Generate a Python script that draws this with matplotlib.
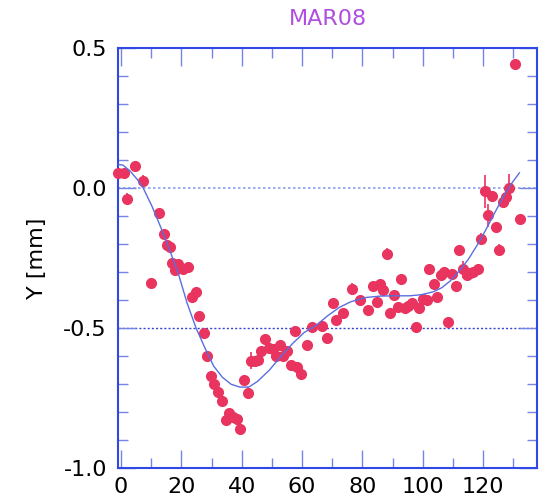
import matplotlib
matplotlib.use("Agg")
import matplotlib.pyplot as plt
from matplotlib.ticker import MultipleLocator, FormatStrFormatter

# ---- data ----
x_pts = [-0.9, 1.0, 2.0, 4.8, 7.3, 9.9, 12.6, 14.3, 15.2, 16.1, 16.9, 18.0, 19.0, 20.6, 22.3,
         23.6, 25.0, 25.8, 27.5, 28.5, 29.8, 30.9, 32.1, 33.5, 34.8, 35.8, 37.2, 38.4, 39.4,
         40.7, 42.1, 43.1, 44.4, 45.4, 46.5, 47.7, 49.1, 50.2, 51.4, 52.7, 53.7, 55.0, 56.4,
         57.7, 58.4, 59.7, 61.7, 63.3, 66.6, 68.3, 70.2, 71.3, 73.6, 76.5, 79.2, 81.9, 83.5,
         84.9, 85.8, 86.9, 88.2, 89.1, 90.5, 91.8, 92.8, 94.2, 95.1, 96.5, 97.8, 98.7,
         100.1, 101.4, 102.2, 103.6, 104.7, 106.1, 107.1, 108.2, 109.7, 111.0, 112.1, 113.4,
         114.5, 115.6, 116.7, 118.3, 119.3, 120.6, 121.6, 123.0, 124.3, 125.3, 126.7, 127.6,
         128.6, 130.6, 132.3]
y_pts = [0.054, 0.054, -0.037, 0.079, 0.027, -0.337, -0.09, -0.163, -0.204, -0.211, -0.268,
         -0.292, -0.27, -0.287, -0.281, -0.39, -0.372, -0.455, -0.518, -0.60, -0.67, -0.70,
         -0.728, -0.76, -0.826, -0.803, -0.818, -0.824, -0.86, -0.686, -0.73, -0.616, -0.616,
         -0.613, -0.58, -0.54, -0.57, -0.575, -0.60, -0.558, -0.60, -0.58, -0.63, -0.51,
         -0.638, -0.663, -0.56, -0.497, -0.492, -0.535, -0.41, -0.47, -0.444, -0.36, -0.40,
         -0.434, -0.35, -0.405, -0.341, -0.362, -0.233, -0.444, -0.38, -0.423, -0.323,
         -0.427, -0.419, -0.408, -0.495, -0.427, -0.395, -0.40, -0.287, -0.341, -0.39,
         -0.31, -0.30, -0.477, -0.305, -0.348, -0.219, -0.29, -0.31, -0.303, -0.30, -0.29,
         -0.18, -0.011, -0.097, -0.029, -0.14, -0.219, -0.05, -0.032, 0.0, 0.444, -0.111]
y_err = [0.01, 0.01, 0.02, 0.01, 0.02, 0.01, 0.02, 0.01, 0.01, 0.01, 0.01, 0.01, 0.01, 0.01,
         0.01, 0.01, 0.01, 0.01, 0.01, 0.01, 0.01, 0.01, 0.01, 0.01, 0.01, 0.015, 0.01, 0.01,
         0.01, 0.015, 0.02, 0.03, 0.01, 0.01, 0.01, 0.01, 0.01, 0.01, 0.01, 0.01, 0.01, 0.01,
         0.01, 0.01, 0.01, 0.01, 0.015, 0.01, 0.01, 0.015, 0.01, 0.01, 0.01, 0.02, 0.01,
         0.01, 0.01, 0.01, 0.01, 0.02, 0.02, 0.01, 0.01, 0.01, 0.01, 0.01, 0.01, 0.01, 0.015,
         0.01, 0.01, 0.01, 0.01, 0.01, 0.01, 0.01, 0.01, 0.01, 0.01, 0.01, 0.01, 0.03, 0.02,
         0.02, 0.02, 0.01, 0.02, 0.06, 0.04, 0.01, 0.01, 0.02, 0.02, 0.02, 0.05, 0.015, 0.01]

# fitted curve
x_fit = [-1.0, 0.6, 3.0, 5.5, 7.4, 10.3, 13.2, 16.1, 19.0, 21.9, 24.9, 27.8, 30.7, 33.6,
         36.5, 39.4, 42.3, 45.2, 49.1, 53.0, 56.8, 60.7, 64.6, 68.5, 72.4, 76.2, 81.1, 85.9,
         90.8, 95.6, 99.5, 103.4, 106.3, 109.2, 112.1, 115.0, 117.9, 120.8, 123.7, 126.7,
         129.6, 132.0]
y_fit = [0.085, 0.083, 0.062, 0.03, 0.0, -0.065, -0.14, -0.22, -0.305, -0.41, -0.50, -0.57,
         -0.635, -0.675, -0.70, -0.71, -0.71, -0.69, -0.65, -0.60, -0.555, -0.515, -0.49,
         -0.455, -0.425, -0.405, -0.39, -0.385, -0.384, -0.384, -0.38, -0.37, -0.355, -0.33,
         -0.295, -0.255, -0.205, -0.15, -0.09, -0.03, 0.02, 0.055]

ref_lines = [0.0, -0.5]
title = "MAR08"
ylabel = "Y [mm]"

# ---- figure ----
fig = plt.figure(figsize=(5.39, 5.03), dpi=100)
ax = fig.add_axes([0.2189, 0.069, 0.7783, 0.835])

pt_color = "#e8345f"
spine_color = "#3048e6"

ax.axhline(ref_lines[0], color="#8c9ef0", lw=1.2, ls=(0, (1.5, 1.5)), zorder=1)
ax.axhline(ref_lines[1], color="#3344cc", lw=1.0, ls=(0, (1.5, 1.5)), zorder=1)

eb = ax.errorbar(x_pts, y_pts, yerr=y_err, fmt="o", color=pt_color, ms=7, mec=pt_color,
                 ecolor=pt_color, elinewidth=1.2, capsize=0, zorder=3)
eb[0].set_clip_on(False)
for c in eb[2]:
    c.set_clip_on(False)
ax.plot(x_fit, y_fit, color="#5a6ee0", lw=1.0, zorder=4)

ax.set_xlim(-1.0, 138.0)
ax.set_ylim(-1.0, 0.5)
ax.xaxis.set_major_locator(MultipleLocator(20))
ax.xaxis.set_minor_locator(MultipleLocator(10))
ax.yaxis.set_major_locator(MultipleLocator(0.5))
ax.yaxis.set_minor_locator(MultipleLocator(0.1))
ax.yaxis.set_major_formatter(FormatStrFormatter("%.1f"))

ax.tick_params(which="both", direction="in", top=True, right=True, color="#7585e5",
               labelsize=16, width=1.0)
ax.tick_params(which="major", length=13)
ax.tick_params(which="minor", length=7)
ax.tick_params(axis="y", pad=8)
ax.tick_params(axis="x", pad=6)
for s in ax.spines.values():
    s.set_color(spine_color)
    s.set_linewidth(1.5)

ax.set_ylabel(ylabel, fontsize=16, labelpad=12)
fig.text(0.608, 0.962, title, color="#b04ee0", fontsize=16, ha="center", va="center")

fig.savefig("out.png", dpi=100)
